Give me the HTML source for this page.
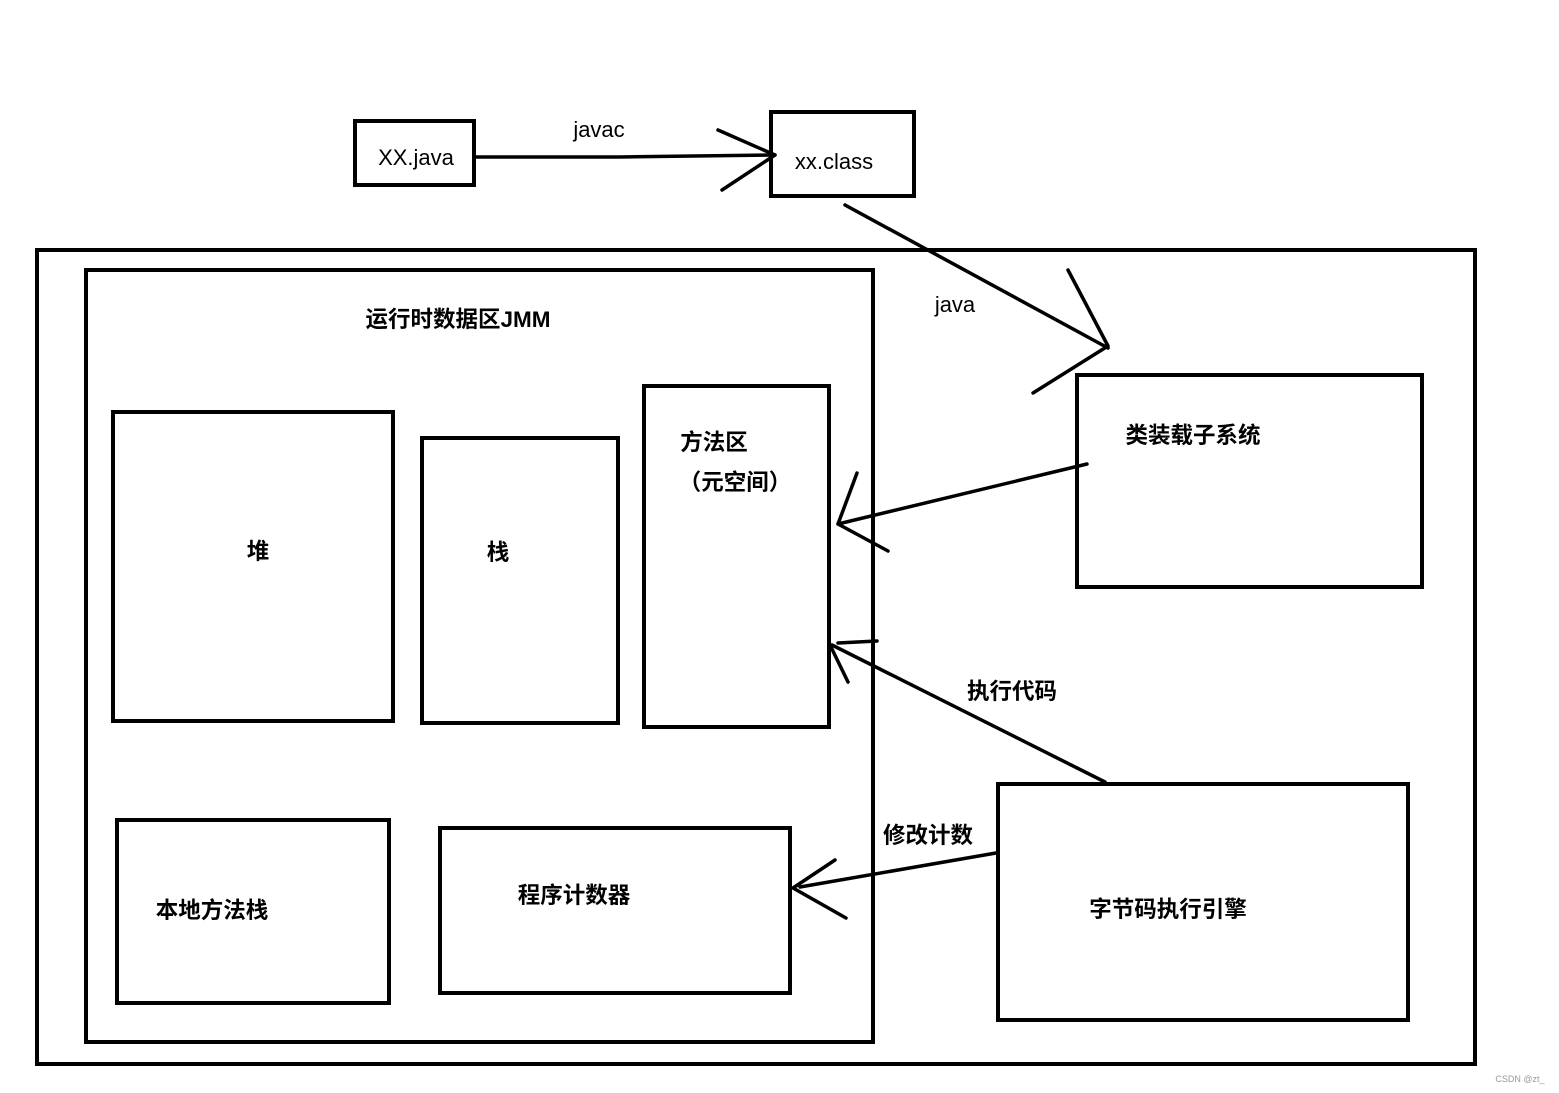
<!DOCTYPE html>
<html><head><meta charset="utf-8"><style>
html,body{margin:0;padding:0;background:#fff;}
svg{display:block;}
text{font-family:"Liberation Sans","Noto Sans CJK SC",sans-serif;fill:#000;}
.b{font-weight:bold;font-size:22.5px;}
.n{font-size:22px;}
</style></head><body>
<svg width="1559" height="1093" viewBox="0 0 1559 1093" xmlns="http://www.w3.org/2000/svg">
<g fill="none" stroke="#000" stroke-width="4">
<rect x="355" y="121" width="119" height="64"/>
<rect x="771" y="112" width="143" height="84"/>
<rect x="37" y="250" width="1438" height="814"/>
<rect x="86" y="270" width="787" height="772"/>
<rect x="113" y="412" width="280" height="309"/>
<rect x="422" y="438" width="196" height="285"/>
<rect x="644" y="386" width="185" height="341"/>
<rect x="1077" y="375" width="345" height="212"/>
<rect x="117" y="820" width="272" height="183"/>
<rect x="440" y="828" width="350" height="165"/>
<rect x="998" y="784" width="410" height="236"/>
</g>
<g fill="none" stroke="#000" stroke-width="3.5" stroke-linecap="round" stroke-linejoin="round">
<polyline points="474,157 620,157 775,155"/>
<polyline points="718,130 775,155 722,190"/>
<line x1="845" y1="205" x2="1108" y2="348"/>
<polyline points="1068,270 1108,346 1033,393"/>
<line x1="1087" y1="464" x2="838" y2="524"/>
<polyline points="857,473 838,524 888,551"/>
<line x1="1105" y1="782" x2="832" y2="645"/>
<polyline points="877,641 838,643"/>
<line x1="830" y1="645" x2="848" y2="682"/>
<line x1="996" y1="853" x2="800" y2="887"/>
<polyline points="835,860 793,888 846,918"/>
</g>
<text class="n" x="599" y="137" text-anchor="middle">javac</text>
<text class="n" x="416" y="165" text-anchor="middle">XX.java</text>
<text class="n" x="834" y="169" text-anchor="middle">xx.class</text>
<text class="n" x="955" y="312" text-anchor="middle">java</text>
<text class="b" x="458" y="327" text-anchor="middle">运行时数据区JMM</text>
<text class="b" x="258" y="559" text-anchor="middle">堆</text>
<text class="b" x="498" y="560" text-anchor="middle">栈</text>
<text class="b" x="714" y="450" text-anchor="middle">方法区</text>
<text class="b" x="735" y="490" text-anchor="middle">（元空间）</text>
<text class="b" x="1193" y="443" text-anchor="middle">类装载子系统</text>
<text class="b" x="1012" y="699" text-anchor="middle">执行代码</text>
<text class="b" x="928" y="843" text-anchor="middle">修改计数</text>
<text class="b" x="212" y="918" text-anchor="middle">本地方法栈</text>
<text class="b" x="574" y="903" text-anchor="middle">程序计数器</text>
<text class="b" x="1168" y="917" text-anchor="middle">字节码执行引擎</text>
<text x="1520" y="1082" text-anchor="middle" style="font-size:9px;fill:#999">CSDN @zt_</text>
</svg>
</body></html>
